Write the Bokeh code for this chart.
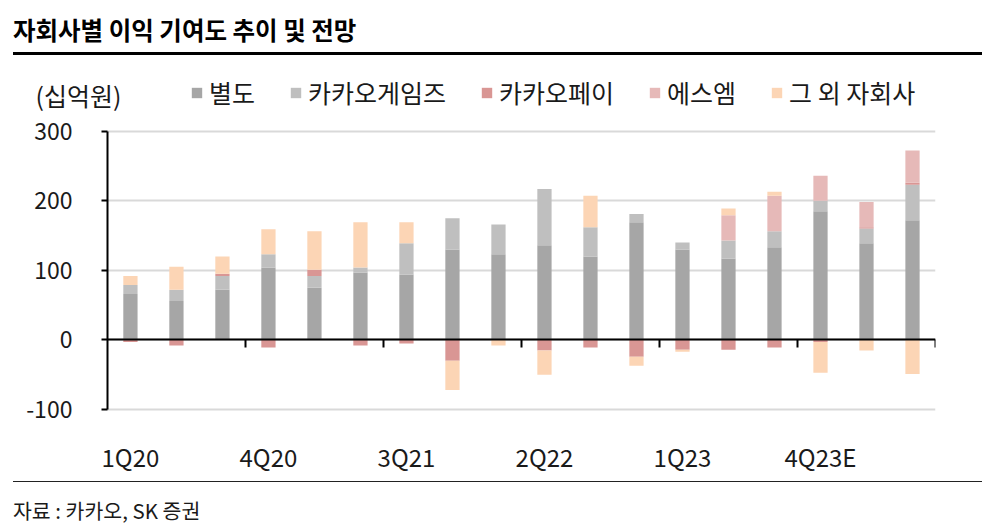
from bokeh.plotting import figure
from bokeh.models import (ColumnDataSource, Range1d, FixedTicker, LinearAxis,
                          Legend, LegendItem, Label, Div, Grid)
from bokeh.layouts import column
from bokeh.embed import file_html
from bokeh.resources import INLINE

# ---------------- data ----------------
quarters = ["1Q20", "2Q20", "3Q20", "4Q20", "1Q21", "2Q21", "3Q21", "4Q21",
            "1Q22", "2Q22", "3Q22", "4Q22", "1Q23", "2Q23", "3Q23", "4Q23E",
            "1Q24E", "2Q24E"]
standalone = [66, 56, 72, 104, 75, 97, 94, 130, 123, 136, 120, 169, 130, 117, 133, 185, 139, 172]
games      = [13, 16, 20, 19, 17, 7, 45, 45, 43, 81, 42, 12, 10, 26, 23, 15, 21, 51]
pay        = [-3, -8, 3, -11, 9, -8, -5, -30, 0, -15, -11, -24, -14, -14, -11, -3, 2, 3]
sm         = [0, 0, 0, 0, 0, 0, 0, 0, 0, 0, 0, 0, 0, 36, 51, 36, 36, 46]
others     = [13, 33, 25, 36, 55, 65, 30, -42, -8, -35, 45, -13, -3, 10, 6, -44, -15, -49]
series_names = ["별도", "카카오게임즈", "카카오페이", "에스엠", "그 외 자회사"]
y_ticks = [-100, 0, 100, 200, 300]
y_tick_labels = ["-100", "0", "100", "200", "300"]

TITLE = "자회사별 이익 기여도 추이 및 전망"
UNIT = "(십억원)"
SOURCE = "자료 : 카카오, SK 증권"

# ---------------- style ----------------
colors = ["#a6a6a6", "#bfbfbf", "#d99694", "#e6b9b8", "#fcd5b5"]
FONT = "Noto Sans CJK KR"
TXT = "#1a1a1a"
LEFT_PAD = 2.02     # room (in category widths) left of the value axis for its labels
TOP_PAD = 100       # room (in value units) above the top tick for the legend row
BOTTOM_PAD = 20     # room (in value units) below the lowest tick for its label

n = len(quarters)
xs = list(range(n))
x_lo, x_hi = -0.5, n - 0.5

p = figure(width=1000, height=420,
           x_range=Range1d(x_lo - LEFT_PAD, x_hi),
           y_range=Range1d(y_ticks[0] - BOTTOM_PAD, y_ticks[-1] + TOP_PAD),
           output_backend="svg", toolbar_location=None,
           min_border_left=14, min_border_right=65, min_border_top=5, min_border_bottom=51)
p.outline_line_color = None
p.background_fill_color = "white"
p.border_fill_color = "white"

# grid
p.xgrid.visible = False
p.ygrid.ticker = FixedTicker(ticks=y_ticks)
p.ygrid.grid_line_color = "#d9d9d9"
p.ygrid.grid_line_width = 2
if "cross_bounds" in Grid.properties():
    p.ygrid.cross_bounds = (x_lo, x_hi)

# y axis (drawn at the left edge of the first category)
ya = p.yaxis[0]
ya.fixed_location = x_lo
ya.bounds = (y_ticks[0], y_ticks[-1])
ya.ticker = FixedTicker(ticks=y_ticks)
ya.major_label_overrides = dict(zip(y_ticks, y_tick_labels))
ya.axis_line_color = "black"
ya.axis_line_width = 2
ya.major_tick_line_color = "black"
ya.major_tick_line_width = 2
ya.major_tick_out = 6
ya.major_tick_in = 0
ya.minor_tick_line_color = None
ya.major_label_standoff = 29
ya.major_label_text_font = FONT
ya.major_label_text_font_size = "23px"
ya.major_label_text_color = TXT

# category label axis (bottom)
xa = p.xaxis[0]
label_pos = xs[::3]
xa.ticker = FixedTicker(ticks=label_pos)
xa.major_label_overrides = {i: quarters[i] for i in label_pos}
xa.axis_line_color = None
xa.major_tick_line_color = None
xa.major_tick_out = 0
xa.major_tick_in = 0
xa.minor_tick_line_color = None
xa.major_label_standoff = 15
xa.major_label_text_font = FONT
xa.major_label_text_font_size = "24px"
xa.major_label_text_color = TXT

# zero line axis with ticks between groups of three quarters
zero_axis = LinearAxis(fixed_location=0, bounds=(x_lo, x_hi),
                       ticker=FixedTicker(ticks=[k + 2.5 for k in xs[::3]]))
zero_axis.axis_line_color = "black"
zero_axis.axis_line_width = 2
zero_axis.major_tick_line_color = "black"
zero_axis.major_tick_line_width = 2
zero_axis.major_tick_in = 8
zero_axis.major_tick_out = 0
zero_axis.minor_tick_line_color = None
zero_axis.major_label_text_color = None
zero_axis.major_label_text_font_size = "1px"
p.add_layout(zero_axis, "above")

# stacked bars (positive values stack up, negative values stack down)
series = [standalone, games, pay, sm, others]
pos = [0.0] * n
neg = [0.0] * n
items = []
for name, vals, col in zip(series_names, series, colors):
    bottoms, tops = [], []
    for i, v in enumerate(vals):
        if v >= 0:
            b = pos[i]; t = pos[i] + v; pos[i] = t
        else:
            b = neg[i]; t = neg[i] + v; neg[i] = t
        bottoms.append(b); tops.append(t)
    src = ColumnDataSource(dict(x=xs, bottom=bottoms, top=tops))
    r = p.vbar(x="x", bottom="bottom", top="top", width=0.31, source=src,
               fill_color=col, line_color=None)
    items.append(LegendItem(label=name, renderers=[r]))

legend = Legend(items=items, orientation="horizontal", location=(176, 313),
                glyph_width=13, glyph_height=13, label_standoff=6, spacing=34,
                padding=0, margin=0, border_line_color=None,
                background_fill_alpha=0,
                label_text_font=FONT, label_text_font_size="25px",
                label_text_color=TXT)
p.add_layout(legend)

p.add_layout(Label(x=21, y=329, x_units="screen", y_units="screen", text=UNIT,
                   text_font=FONT, text_font_size="25px", text_color=TXT,
                   text_baseline="middle"))

title_div = Div(text=(
    "<div style='position:relative;width:1000px;height:56px;'>"
    "<div style='position:absolute;left:13px;top:15px;font-family:\"Noto Sans CJK KR\";"
    "font-weight:bold;font-size:24.5px;line-height:30px;color:#000;white-space:nowrap'>"
    f"{TITLE}</div>"
    "<div style='position:absolute;left:13px;top:52px;width:969px;height:3px;background:#000'></div>"
    "</div>"), width=1000, height=56, margin=0)

source_div = Div(text=(
    "<div style='position:relative;width:1000px;height:52px;'>"
    "<div style='position:absolute;left:13px;top:5px;width:969px;height:1px;background:#222'></div>"
    "<div style='position:absolute;left:13px;top:21px;font-family:\"Noto Sans CJK KR\";"
    "font-size:20.5px;line-height:26px;color:#1a1a1a;white-space:nowrap'>"
    f"{SOURCE}</div>"
    "</div>"), width=1000, height=52, margin=0)

layout = column(title_div, p, source_div, spacing=0)

open("out.html", "w").write(file_html(layout, INLINE))
